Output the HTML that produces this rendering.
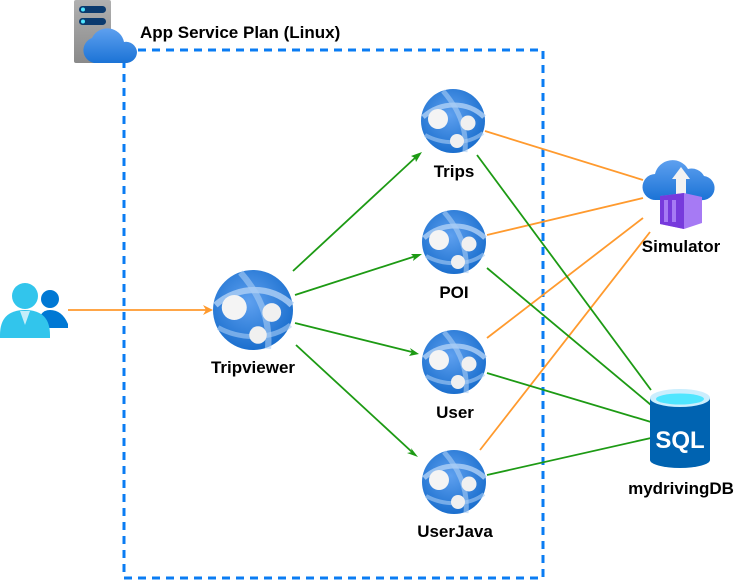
<!DOCTYPE html>
<html><head><meta charset="utf-8"><style>
body{margin:0;background:#fff;width:737px;height:582px;overflow:hidden}
svg text{font-family:"Liberation Sans",Arial,sans-serif;font-weight:bold;font-size:17px;fill:#000}
</style></head><body>
<svg width="737" height="582" viewBox="0 0 737 582">
<defs>
<radialGradient id="g" cx="0.45" cy="0.4" r="0.6"><stop offset="0" stop-color="#5ea0ef"/><stop offset="1" stop-color="#1b6fce"/></radialGradient>
<linearGradient id="cl" x1="0" y1="0" x2="0" y2="1"><stop offset="0" stop-color="#5ea0ef"/><stop offset="1" stop-color="#1b73d6"/></linearGradient>
<linearGradient id="sv" x1="0" y1="0" x2="0" y2="1"><stop offset="0" stop-color="#b0b0b0"/><stop offset="1" stop-color="#8a8a8a"/></linearGradient>
<g id="globe">
<circle r="32" fill="url(#g)"/>
<path d="M-30,-4 C-12,-20 15,-20 31,-4" stroke="#a9cdf5" stroke-width="5" fill="none" opacity="0.85"/>
<path d="M-10,-30 C6,-12 14,8 12,31" stroke="#a9cdf5" stroke-width="5" fill="none" opacity="0.6"/>
<path d="M-28,14 C-10,24 15,24 30,12" stroke="#a9cdf5" stroke-width="4" fill="none" opacity="0.6"/>
<circle cx="-15" cy="-2" r="10" fill="#f4f4f4"/>
<circle cx="15" cy="2" r="7.5" fill="#f0f0f0"/>
<circle cx="4" cy="20" r="7" fill="#f0f0f0"/>
</g>
</defs>
<rect x="124" y="50" width="419" height="528" fill="none" stroke="#0a7cf3" stroke-width="3" stroke-dasharray="8,6"/>
<rect x="74" y="0" width="37" height="63" rx="2" fill="url(#sv)"/>
<rect x="79" y="6" width="27" height="7" rx="3.5" fill="#0b3a6e"/>
<rect x="79" y="18" width="27" height="7" rx="3.5" fill="#0b3a6e"/>
<circle cx="83" cy="9.5" r="2" fill="#50e6ff"/><circle cx="83" cy="21.5" r="2" fill="#50e6ff"/>
<path d="M94,63 a13,13 0 0 1 -2,-25 a17,17 0 0 1 32,4 a11,11 0 0 1 13,10 a11,11 0 0 1 -11,11 z" fill="url(#cl)"/>
<text x="140" y="38">App Service Plan (Linux)</text>
<!-- users -->
<circle cx="50" cy="299" r="9" fill="#0078d4"/>
<path d="M38,328 q0,-18 12,-18 q12,0 18,14 v4 z" fill="#0078d4"/>
<circle cx="25" cy="296" r="13" fill="#32c5ec"/>
<path d="M0,335 q0,-25 25,-25 q25,0 25,25 v3 h-50 z" fill="#32c5ec"/>
<path d="M20,311 l5,14 l5,-14 z" fill="#c5eefa"/>
<!-- lines -->
<g stroke-width="1.8" fill="none">
<line x1="68" y1="310" x2="206" y2="310" stroke="#ff9a2e"/>
<g stroke="#ff9a2e">
<line x1="485" y1="131" x2="643" y2="180"/>
<line x1="487" y1="235" x2="643" y2="198"/>
<line x1="487" y1="338" x2="643" y2="218"/>
<line x1="480" y1="450" x2="650" y2="232"/>
</g>
<g stroke="#1d9a14">
<line x1="293" y1="271" x2="416" y2="157"/>
<line x1="295" y1="295" x2="416" y2="256"/>
<line x1="295" y1="323" x2="412" y2="352"/>
<line x1="296" y1="345" x2="412" y2="452"/>
<line x1="477" y1="155" x2="651" y2="390"/>
<line x1="487" y1="268" x2="651" y2="405"/>
<line x1="487" y1="373" x2="651" y2="422"/>
<line x1="487" y1="475" x2="651" y2="438"/>
</g>
</g>
<polygon points="213,310 203,305 206,310 203,315" fill="#ff9a2e"/>
<g fill="#1d9a14">
<polygon points="422,152 411,156 415,158 416,162"/>
<polygon points="422,254 411,254 414,257 413,261"/>
<polygon points="419,354 410,348 412,352 409,356"/>
<polygon points="418,457 411,448 412,452 407,453"/>
</g>
<use href="#globe" transform="translate(253,310) scale(1.25)"/>
<use href="#globe" x="453" y="121"/>
<use href="#globe" x="454" y="242"/>
<use href="#globe" x="454" y="362"/>
<use href="#globe" x="454" y="482"/>
<text x="253" y="373" text-anchor="middle">Tripviewer</text>
<text x="454" y="177" text-anchor="middle">Trips</text>
<text x="454" y="298" text-anchor="middle">POI</text>
<text x="455" y="418" text-anchor="middle">User</text>
<text x="455" y="537" text-anchor="middle">UserJava</text>
<!-- simulator -->
<path d="M656,200 a13,13 0 0 1 -1,-26 a18,18 0 0 1 33,-5 a14,14 0 0 1 16,7 a12,12 0 0 1 -3,24 z" fill="url(#cl)"/>
<rect x="676" y="178" width="10" height="22" fill="#f2f2f2"/>
<polygon points="672,179 681,167 690,179" fill="#f2f2f2"/>
<polygon points="660,196 684,193 702,197 702,223 684,229 660,224" fill="#a67af4"/>
<polygon points="660,196 684,193 684,229 660,224" fill="#773adc"/>
<rect x="664" y="200" width="4" height="22" fill="#a67af4"/><rect x="672" y="200" width="4" height="22" fill="#a67af4"/>
<text x="681" y="252" text-anchor="middle">Simulator</text>
<!-- SQL -->
<path d="M650,398 v62 a30,8 0 0 0 60,0 v-62 z" fill="#0063b1"/>
<ellipse cx="680" cy="398" rx="30" ry="9" fill="#cbeefd"/>
<ellipse cx="680" cy="399" rx="24" ry="5.5" fill="#50e6ff"/>
<text x="680" y="448" text-anchor="middle" style="font-size:24px;fill:#fff">SQL</text>
<text x="681" y="494" text-anchor="middle">mydrivingDB</text>
</svg>
</body></html>
